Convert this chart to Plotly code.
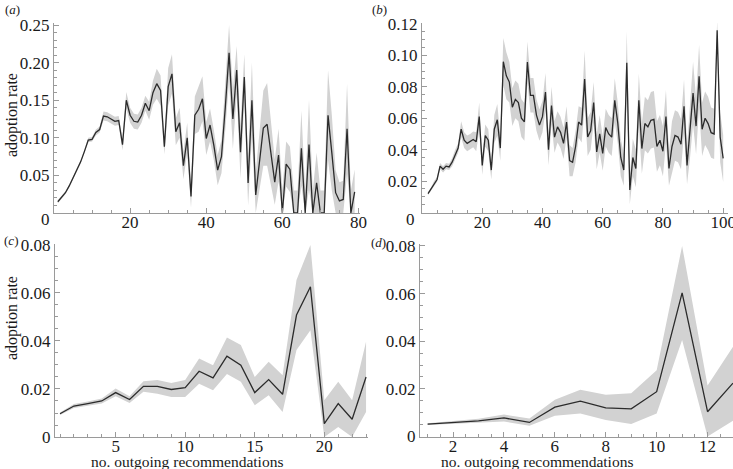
import plotly.graph_objects as go

# ---------------- data ----------------
# (a) adoption rate vs x = 1..79
a_mean = [0.015, 0.021, 0.027, 0.036, 0.046, 0.056, 0.068, 0.082, 0.097, 0.098,
          0.107, 0.111, 0.129, 0.128, 0.125, 0.122, 0.123, 0.091, 0.150, 0.130,
          0.122, 0.121, 0.130, 0.146, 0.136, 0.160, 0.172, 0.163, 0.088, 0.168,
          0.185, 0.108, 0.120, 0.063, 0.100, 0.022, 0.130, 0.138, 0.152, 0.099,
          0.117, 0.090, 0.057, 0.075, 0.140, 0.213, 0.125, 0.190, 0.081, 0.181,
          0.040, 0.150, 0.024, 0.070, 0.113, 0.118, 0.080, 0.041, 0.077, 0.0,
          0.065, 0.058, 0.0, 0.0, 0.086, 0.0, 0.091, 0.0, 0.040, 0.0,
          0.0, 0.130, 0.080, 0.027, 0.016, 0.018, 0.112, 0.0, 0.028]
a_err = [0.002, 0.002, 0.002, 0.002, 0.002, 0.002, 0.002, 0.002, 0.003, 0.003,
         0.004, 0.004, 0.006, 0.006, 0.006, 0.006, 0.006, 0.008, 0.011, 0.010,
         0.010, 0.010, 0.010, 0.010, 0.012, 0.016, 0.020, 0.020, 0.010, 0.025,
         0.026, 0.018, 0.020, 0.018, 0.020, 0.015, 0.025, 0.030, 0.030, 0.022,
         0.022, 0.020, 0.020, 0.022, 0.030, 0.037, 0.040, 0.032, 0.035, 0.030,
         0.030, 0.050, 0.030, 0.040, 0.050, 0.055, 0.045, 0.030, 0.035, 0.030,
         0.030, 0.030, 0.030, 0.030, 0.050, 0.030, 0.060, 0.030, 0.040, 0.030,
         0.030, 0.060, 0.050, 0.030, 0.025, 0.025, 0.060, 0.030, 0.030]
a_x = list(range(1, 1 + len(a_mean)))

# (b) adoption rate vs x = 2..100
b_mean = [0.012, 0.015, 0.0185, 0.021, 0.0295, 0.0275, 0.0295, 0.029, 0.032, 0.037, 0.041,
          0.053, 0.046, 0.044, 0.045, 0.0465, 0.045,
          0.061, 0.030, 0.049, 0.046, 0.027, 0.053, 0.059, 0.041,
          0.096, 0.087, 0.083, 0.067, 0.072, 0.070, 0.060, 0.0577, 0.0958,
          0.0746, 0.0746, 0.062, 0.0556, 0.061, 0.0767, 0.040, 0.068, 0.048, 0.0545, 0.051, 0.044, 0.0576,
          0.033, 0.032, 0.042, 0.0576, 0.0556,
          0.085,
          0.048, 0.052, 0.070, 0.0386, 0.050, 0.0376, 0.054, 0.050, 0.048, 0.0714, 0.057, 0.035,
          0.027, 0.0953, 0.0143,
          0.035, 0.028, 0.0714,
          0.0407, 0.0566, 0.0545, 0.0587, 0.0593, 0.042, 0.046, 0.039, 0.061, 0.028, 0.042, 0.049, 0.048, 0.0435,
          0.0676, 0.030, 0.052, 0.076, 0.055, 0.0867, 0.053, 0.060, 0.0566, 0.0508, 0.050,
          0.116, 0.048, 0.0344]
b_err = [0.001, 0.001, 0.0015, 0.0015, 0.002, 0.002, 0.002, 0.002, 0.0025, 0.003, 0.003,
         0.005, 0.005, 0.005, 0.005, 0.005, 0.006,
         0.009, 0.006, 0.007, 0.007, 0.006, 0.009, 0.010, 0.008,
         0.015, 0.015, 0.013, 0.012, 0.012, 0.012, 0.012, 0.012, 0.013,
         0.011, 0.011, 0.010, 0.010, 0.010, 0.012, 0.010, 0.012, 0.010, 0.010, 0.010, 0.010, 0.010,
         0.010, 0.009, 0.010, 0.010, 0.011,
         0.018,
         0.012, 0.012, 0.013, 0.011, 0.012, 0.011, 0.012, 0.012, 0.012, 0.014, 0.013, 0.012,
         0.010, 0.020, 0.009,
         0.012, 0.012, 0.017,
         0.016, 0.017, 0.017, 0.018, 0.018, 0.016, 0.016, 0.016, 0.017, 0.011, 0.016, 0.016, 0.016, 0.016,
         0.017, 0.012, 0.017, 0.020, 0.018, 0.020, 0.017, 0.017, 0.017, 0.016, 0.016,
         0.006, 0.016, 0.015]
b_x = list(range(2, 2 + len(b_mean)))

# (c) x = 1..23
c_mean = [0.0097, 0.0129, 0.0139, 0.0150, 0.0185, 0.0156, 0.0211, 0.0211, 0.0198, 0.0206,
          0.0274, 0.0246, 0.0337, 0.0299, 0.0185, 0.0239, 0.0178, 0.0508, 0.0626, 0.0056,
          0.0139, 0.0074, 0.0250]
c_hi = [0.0102, 0.0137, 0.0148, 0.0160, 0.0202, 0.0170, 0.0232, 0.0237, 0.0225, 0.0237,
        0.0327, 0.0299, 0.0415, 0.0383, 0.0250, 0.0313, 0.0257, 0.0654, 0.0800, 0.0153,
        0.0230, 0.0153, 0.0397]
c_lo = [0.0092, 0.0121, 0.0130, 0.0140, 0.0170, 0.0142, 0.0188, 0.0180, 0.0167, 0.0167,
        0.0222, 0.0195, 0.0262, 0.0230, 0.0132, 0.0174, 0.0104, 0.0362, 0.0445, 0.0,
        0.0042, 0.0, 0.0104]
c_x = list(range(1, 1 + len(c_mean)))

# (d) x = 1..13
d_mean = [0.0052, 0.0059, 0.0066, 0.0078, 0.0059, 0.0123, 0.0148, 0.0120, 0.0116, 0.0188,
          0.0603, 0.0104, 0.0224]
d_hi = [0.0056, 0.0064, 0.0074, 0.0092, 0.0076, 0.0154, 0.0196, 0.0175, 0.0182, 0.0278,
        0.0800, 0.0214, 0.0377]
d_lo = [0.0048, 0.0054, 0.0058, 0.0063, 0.0045, 0.0087, 0.0097, 0.0069, 0.0052, 0.0097,
        0.0405, 0.0, 0.0066]
d_x = list(range(1, 1 + len(d_mean)))

a_xticks = [20, 40, 60, 80]
b_xticks = [20, 40, 60, 80, 100]
c_xticks = [5, 10, 15, 20]
d_xticks = [2, 4, 6, 8, 10, 12]
a_yticks = [0.05, 0.10, 0.15, 0.20, 0.25]
b_yticks = [0.02, 0.04, 0.06, 0.08, 0.10, 0.12]
cd_yticks = [0, 0.02, 0.04, 0.06, 0.08]

panel_letters = ["a", "b", "c", "d"]
y_title = "adoption rate"
x_title = "no. outgoing recommendations"

# ---------------- figure ----------------
W, H = 733, 469
def fx(p):
    return p / W
def fy(p):
    return 1 - p / H

SERIF = "Liberation Serif"
AX = "#9a9a9a"
BAND = "#d2d2d2"
LINE = "#2b2b2b"
TXT = "#1a1a1a"

fig = go.Figure()

def lo_hi(mean, err):
    return ([max(0.0, m - e) for m, e in zip(mean, err)],
            [m + e for m, e in zip(mean, err)])

a_lo, a_hi = lo_hi(a_mean, a_err)
b_lo, b_hi = lo_hi(b_mean, b_err)

series = [
    (a_x, a_mean, a_lo, a_hi),
    (b_x, b_mean, b_lo, b_hi),
    (c_x, c_mean, c_lo, c_hi),
    (d_x, d_mean, d_lo, d_hi),
]

for i, (xs, m, lo, hi) in enumerate(series, start=1):
    xa = "x" if i == 1 else f"x{i}"
    ya = "y" if i == 1 else f"y{i}"
    fig.add_trace(go.Scatter(x=xs, y=hi, mode="lines", line=dict(width=0, color=BAND),
                             xaxis=xa, yaxis=ya, showlegend=False, hoverinfo="skip"))
    fig.add_trace(go.Scatter(x=xs, y=lo, mode="lines", line=dict(width=0, color=BAND),
                             fill="tonexty", fillcolor=BAND,
                             xaxis=xa, yaxis=ya, showlegend=False, hoverinfo="skip"))
    fig.add_trace(go.Scatter(x=xs, y=m, mode="lines", line=dict(width=1.3, color=LINE),
                             xaxis=xa, yaxis=ya, showlegend=False))

tickfont = dict(family=SERIF, size=17, color=TXT)

def xaxis(dom, rng, ticks, minor_dt, anchor):
    return dict(domain=[fx(dom[0]), fx(dom[1])], range=rng, anchor=anchor,
                tickmode="array", tickvals=ticks, ticktext=[str(t) for t in ticks],
                showline=True, linecolor=AX, linewidth=1, ticks="inside", ticklen=5,
                tickcolor=AX, tickwidth=1, showgrid=False, zeroline=False,
                tickfont=tickfont, automargin=False, ticklabelstandoff=-6,
                ticklabeloverflow="allow",
                minor=dict(tickmode="linear", tick0=0, dtick=minor_dt, ticks="inside",
                           ticklen=3, tickcolor=AX, tickwidth=1, showgrid=False))

def yaxis(dom, rng, ticks, minor_dt, anchor):
    return dict(domain=[fy(dom[1]), fy(dom[0])], range=rng, anchor=anchor,
                tickmode="array", tickvals=ticks,
                ticktext=["0" if t == 0 else f"{t:.2f}" for t in ticks],
                showline=True, linecolor=AX, linewidth=1, ticks="inside", ticklen=5,
                tickcolor=AX, tickwidth=1, showgrid=False, zeroline=False,
                tickfont=tickfont, automargin=False, ticklabelstandoff=0,
                ticklabeloverflow="allow",
                minor=dict(tickmode="linear", tick0=0, dtick=minor_dt, ticks="inside",
                           ticklen=3, tickcolor=AX, tickwidth=1, showgrid=False))

fig.update_layout(
    width=W, height=H, margin=dict(l=0, r=0, t=0, b=0),
    paper_bgcolor="white", plot_bgcolor="rgba(0,0,0,0)",
    showlegend=False,
    xaxis=xaxis((54, 360), [0, 80.4], a_xticks, 5, "y"),
    yaxis=yaxis((23, 213), [0, 0.2527], a_yticks, 0.01, "x"),
    xaxis2=xaxis((422, 728), [0, 101.6], b_xticks, 5, "y2"),
    yaxis2=yaxis((23, 212.5), [0, 0.1206], b_yticks, 0.005, "x2"),
    xaxis3=xaxis((55, 368), [0.64, 23.14], c_xticks, 1, "y3"),
    yaxis3=yaxis((244, 437), [0, 0.0804], cd_yticks, 0.005, "x3"),
    xaxis4=xaxis((420, 733), [0.7, 13.0], d_xticks, 0.5, "y4"),
    yaxis4=yaxis((244, 436.5), [0, 0.0808], cd_yticks, 0.005, "x4"),
)

ann = []
def A(text, x, y, size, xanchor="center", yanchor="middle", angle=0):
    ann.append(dict(text=text, x=fx(x), y=fy(y), xref="paper", yref="paper",
                    showarrow=False, xanchor=xanchor, yanchor=yanchor, textangle=angle,
                    font=dict(family=SERIF, size=size, color=TXT)))

# panel letters
for letter, (px, py) in zip(panel_letters, [(12, 9), (379, 9), (11, 241), (378, 243)]):
    A(f"(<i>{letter}</i>)", px, py, 13)
# origin "0" labels for panels a and b
A("0", 45, 219, 17)
A("0", 410, 219, 17)
# axis titles
A(y_title, 12, 115, 16, angle=-90)
A(y_title, 12, 318, 16, angle=-90)
A(x_title, 187, 461, 15.5)
A(x_title, 537, 461, 15.5)
fig.update_layout(annotations=ann)

fig.write_html("out.html", post_script="document.body.style.margin='0';",
               config={"displayModeBar": False})
